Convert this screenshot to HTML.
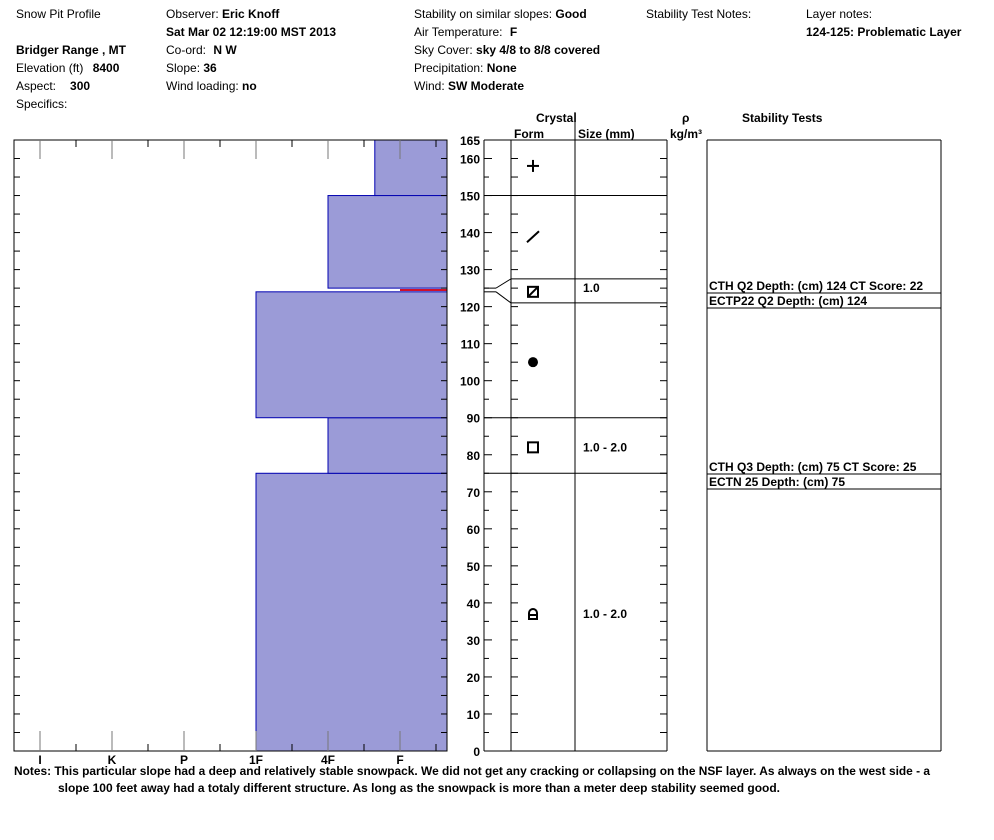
<!DOCTYPE html>
<html><head><meta charset="utf-8"><style>
html,body{margin:0;padding:0;background:#fff;width:994px;height:840px;overflow:hidden}
svg{display:block;font-family:"Liberation Sans",Arial,sans-serif;font-size:12px}
.b{font-weight:bold}
</style></head><body>
<svg id="c" width="994" height="840" viewBox="0 0 994 840">
<g fill="#000">
<text x="16" y="18">Snow Pit Profile</text>
<text x="16" y="54" class="b">Bridger Range , MT</text>
<text x="16" y="72">Elevation (ft) <tspan class="b" dx="6">8400</tspan></text>
<text x="16" y="90">Aspect:<tspan class="b" dx="14">300</tspan></text>
<text x="16" y="108">Specifics:</text>
<text x="166" y="18">Observer: <tspan class="b">Eric Knoff</tspan></text>
<text x="166" y="36" class="b">Sat Mar 02 12:19:00 MST 2013</text>
<text x="166" y="54">Co-ord: <tspan class="b" dx="4">N  W</tspan></text>
<text x="166" y="72">Slope: <tspan class="b">36</tspan></text>
<text x="166" y="90">Wind loading: <tspan class="b">no</tspan></text>
<text x="414" y="18">Stability on similar slopes: <tspan class="b">Good</tspan></text>
<text x="414" y="36">Air Temperature: <tspan class="b" dx="4">F</tspan></text>
<text x="414" y="54">Sky Cover: <tspan class="b">sky 4/8 to 8/8 covered</tspan></text>
<text x="414" y="72">Precipitation: <tspan class="b">None</tspan></text>
<text x="414" y="90">Wind: <tspan class="b">SW Moderate</tspan></text>
<text x="646" y="18">Stability Test Notes:</text>
<text x="806" y="18">Layer notes:</text>
<text x="806" y="36" class="b">124-125: Problematic Layer</text>
<text x="536" y="122" class="b">Crystal</text>
<line x1="575" y1="112" x2="575" y2="140" stroke="#000"/>
<text x="514" y="138" class="b">Form</text>
<text x="578" y="138" class="b">Size (mm)</text>
<text x="682" y="122" class="b">ρ</text>
<text x="670" y="138" class="b">kg/m³</text>
<text x="742" y="122" class="b">Stability Tests</text>
</g>
<g id="plot"></g>
<g class="b">
<text x="14" y="775" textLength="916" lengthAdjust="spacingAndGlyphs">Notes:  This particular slope had a deep and relatively stable snowpack.  We did not get any cracking or collapsing on the NSF layer.  As always on the west side - a</text>
<text x="58" y="792" textLength="722" lengthAdjust="spacingAndGlyphs">slope 100 feet away had a totaly different structure.  As long as the snowpack is more than a meter deep stability seemed good.</text>
</g>
</svg>
<script>
// data
const layerTops = [75, 90, 124, 125, 150, 165];
const layerBottoms = [0, 75, 90, 124, 125, 150];
const layerHardness = [3, 4, 3, 5, 4, 4.65]; // index: I=0,K=1,P=2,1F=3,4F=4,F=5
const problemLayer = [false, false, false, true, false, false];
const hardnessLabels = ["I","K","P","1F","4F","F"];
const depthTicks = [0,10,20,30,40,50,60,70,80,90,100,110,120,130,140,150,160,165];
const grainBounds = [75, 90, 121, 127.5, 150];
const grainForms = ["rounded-faceted","facet","round","mixed","decomp","new"];
const grainDepths = [37, 82, 105, 124, 139, 158];
const grainSizes = ["1.0 - 2.0","1.0 - 2.0","","1.0","",""];
const grainSizeDepths = [37, 82, 105, 125, 139, 158];
const testDepths = [124, 75];
const testLines1 = ["CTH Q2 Depth: (cm) 124 CT Score: 22","CTH Q3 Depth: (cm) 75 CT Score: 25"];
const testLines2 = ["ECTP22 Q2 Depth: (cm) 124","ECTN 25   Depth: (cm) 75"];

const NS="http://www.w3.org/2000/svg";
const g=document.getElementById('plot');
const Y0=751, Y1=140, DMAX=165;
const y=d=>Y0-(Y0-Y1)*d/DMAX;
const hx=h=>40+72*h;
function el(tag,attrs,parent){const e=document.createElementNS(NS,tag);for(const k in attrs)e.setAttribute(k,attrs[k]);(parent||g).appendChild(e);return e;}

// hardness bars
layerTops.forEach((t,i)=>{
  const b=layerBottoms[i];
  if(problemLayer[i]){
    const l=el('line',{x1:hx(layerHardness[i]),x2:447,y1:y((t+b)/2),y2:y((t+b)/2),stroke:'#d0102a','stroke-width':2});
    
    
    const w=el('line',{x1:hx(3),x2:hx(layerHardness[i]),y1:y((t+b)/2),y2:y((t+b)/2),stroke:'#fff','stroke-width':2});
    
    
    return;
  }
  const r=el('rect',{x:hx(layerHardness[i]),y:y(t),width:447-hx(layerHardness[i]),height:y(b)-y(t),fill:'#9b9bd7',stroke:'#0000b0','stroke-width':1});
  
  
});
// frame of hardness chart
const fr=el('rect',{x:14,y:140,width:433,height:611,fill:'none',stroke:'#000'});


// hardness ticks & labels
for(let i=0;i<hardnessLabels.length;i++){
  const x=hx(i);
  el('line',{x1:x,x2:x,y1:731,y2:751,stroke:'#777'});
  el('line',{x1:x,x2:x,y1:140,y2:159,stroke:'#777'});
  el('line',{x1:x+36,x2:x+36,y1:744,y2:751,stroke:'#000'});
  el('line',{x1:x+36,x2:x+36,y1:140,y2:147,stroke:'#000'});
  const t=el('text',{x:x,y:764,'text-anchor':'middle','font-weight':'bold'});
  t.textContent=hardnessLabels[i];
  
  
}
// depth ticks
for(let d=0;d<=165;d+=5){
  const big=d%10===0;
  el('line',{x1:14,x2:20,y1:y(d),y2:y(d),stroke:'#000'});
  el('line',{x1:441,x2:447,y1:y(d),y2:y(d),stroke:'#000'});
  el('line',{x1:484,x2:big?492:489,y1:y(d),y2:y(d),stroke:'#000'});
  el('line',{x1:511,x2:518,y1:y(d),y2:y(d),stroke:'#000'});
  el('line',{x1:660,x2:667,y1:y(d),y2:y(d),stroke:'#000'});
}
depthTicks.forEach(d=>{
  const t=el('text',{x:480,y:y(d)+5,'text-anchor':'end','font-weight':'bold'});
  t.textContent=d;
  
  
});
// table columns
[484,511,575,667,707,941].forEach((x,i)=>{
  const l=el('line',{x1:x,x2:x,y1:140,y2:751,stroke:'#000'});
  
  
});
el('line',{x1:484,x2:667,y1:140,y2:140,stroke:'#000'});
el('line',{x1:707,x2:941,y1:140,y2:140,stroke:'#000'});
el('line',{x1:484,x2:667,y1:751,y2:751,stroke:'#000'});
el('line',{x1:707,x2:941,y1:751,y2:751,stroke:'#000'});
grainBounds.forEach(d=>{
  const l=el('line',{x1:d===121||d===127.5?511:484,x2:667,y1:y(d),y2:y(d),stroke:'#000'});
  
  
});
// fan lines for thin layer
el('line',{x1:484,y1:y(125),x2:496,y2:y(125),stroke:'#000'});
el('line',{x1:496,y1:y(125),x2:511,y2:y(127.5),stroke:'#000'});
el('line',{x1:484,y1:y(124),x2:496,y2:y(124),stroke:'#000'});
el('line',{x1:496,y1:y(124),x2:511,y2:y(121),stroke:'#000'});
// grain symbols
grainForms.forEach((f,i)=>{
  const cx=533, cy=y(grainDepths[i]);
  const s=document.createElementNS(NS,'g');
  g.appendChild(s);
  
  
  if(f==='new'){el('line',{x1:cx-6,x2:cx+6,y1:cy,y2:cy,stroke:'#000','stroke-width':2},s);el('line',{x1:cx,x2:cx,y1:cy-6,y2:cy+6,stroke:'#000','stroke-width':2},s);}
  if(f==='decomp'){el('line',{x1:cx-6,y1:cy+6,x2:cx+6,y2:cy-5,stroke:'#000','stroke-width':2},s);}
  if(f==='mixed'){el('rect',{x:cx-5,y:cy-5,width:10,height:10,fill:'none',stroke:'#000','stroke-width':2},s);el('line',{x1:cx-5,y1:cy+5,x2:cx+5,y2:cy-5,stroke:'#000','stroke-width':2},s);}
  if(f==='round'){el('circle',{cx:cx,cy:cy,r:5,fill:'#000'},s);}
  if(f==='facet'){el('rect',{x:cx-5,y:cy-5,width:10,height:10,fill:'none',stroke:'#000','stroke-width':2},s);}
  if(f==='rounded-faceted'){el('path',{d:`M${cx-4} ${cy+5}V${cy-1}A4 4 0 0 1 ${cx+4} ${cy-1}V${cy+5}Z M${cx-4} ${cy+1}H${cx+4}`,fill:'none',stroke:'#000','stroke-width':2},s);}
});
grainSizes.forEach((sz,i)=>{
  if(!sz)return;
  const t=el('text',{x:583,y:y(grainSizeDepths[i])+4,'font-weight':'bold'});
  t.textContent=sz;
  
  
});
// stability tests
testDepths.forEach((d,i)=>{
  const yy=y(d)+15;
  el('line',{x1:707,x2:941,y1:yy-15,y2:yy-15,stroke:'#000'}).setAttribute('opacity','0');
  const yl=(i===0?293:474);
  el('line',{x1:707,x2:941,y1:yl,y2:yl,stroke:'#000'});
  el('line',{x1:707,x2:941,y1:yl+15,y2:yl+15,stroke:'#000'});
  const t1=el('text',{x:709,y:yl-3,'font-weight':'bold'});
  t1.textContent=testLines1[i];
  
  
  const t2=el('text',{x:709,y:yl+12,'font-weight':'bold'});
  t2.textContent=testLines2[i];
  
  
});
</script>
</body></html>
